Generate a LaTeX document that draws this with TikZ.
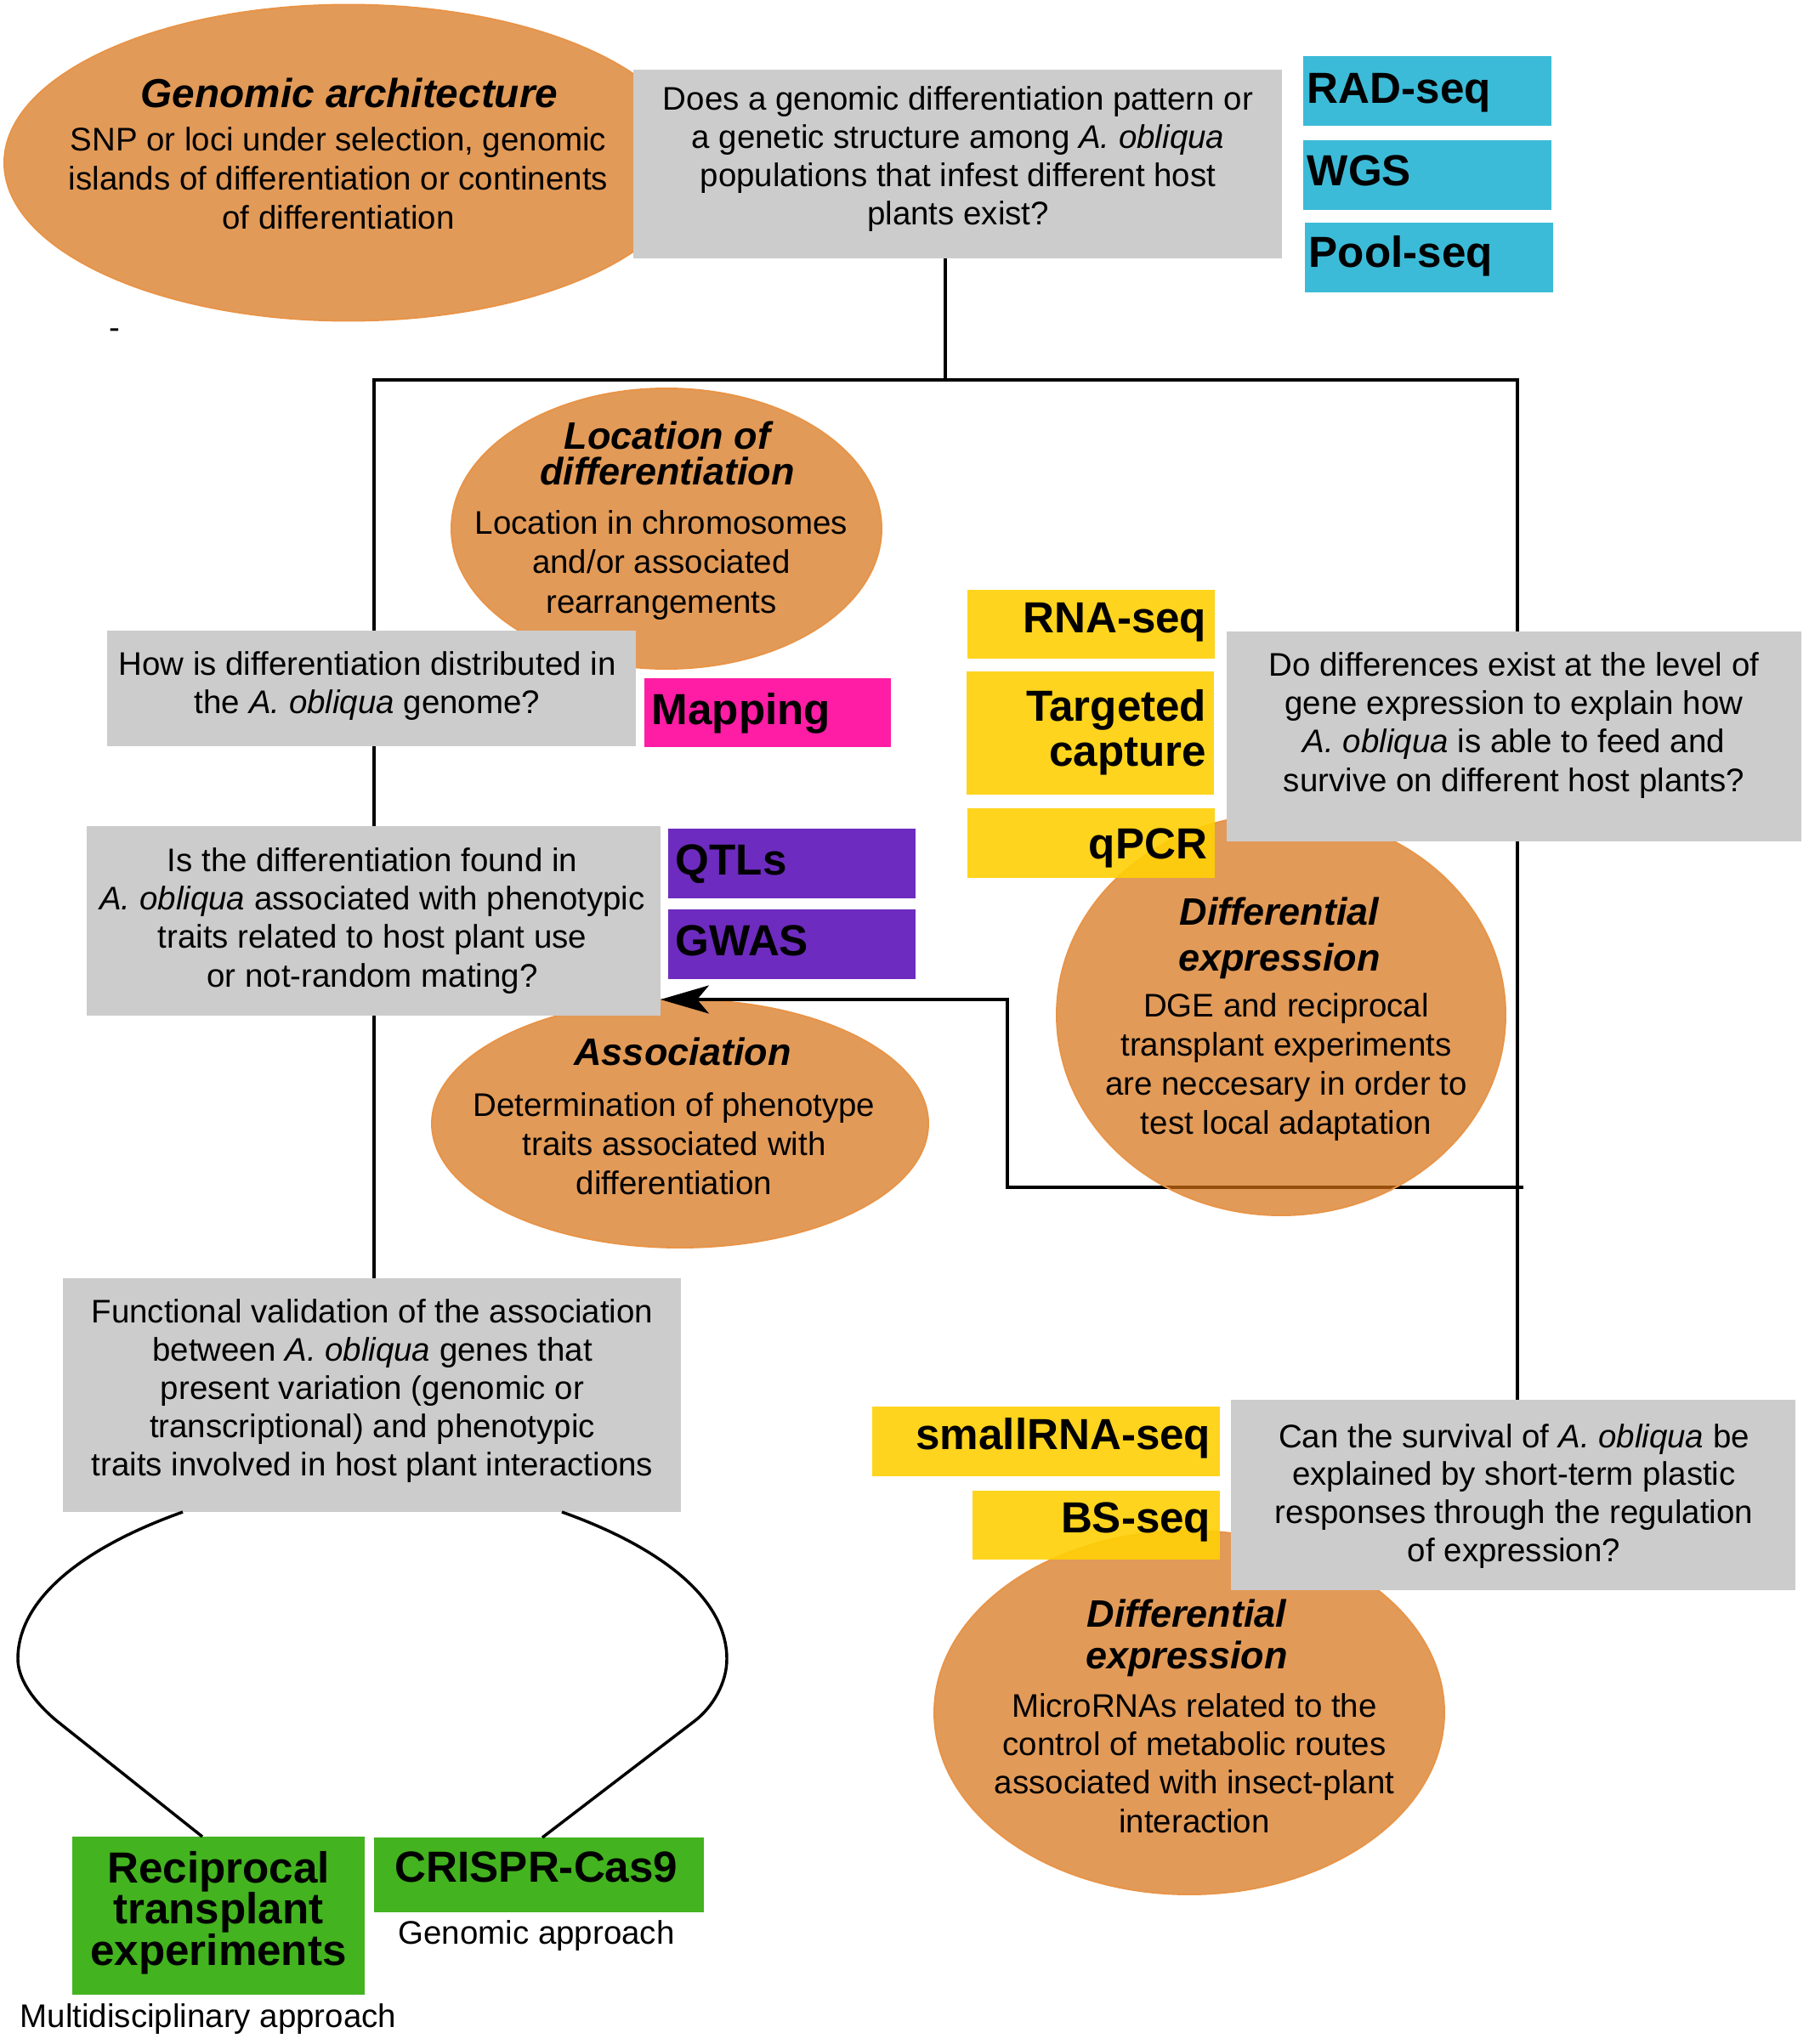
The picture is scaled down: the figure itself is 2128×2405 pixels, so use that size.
\documentclass[tikz,border=0pt]{standalone}
\usepackage{fontspec}
\setmainfont{Liberation Sans}
\usetikzlibrary{shapes.geometric,arrows.meta}
\definecolor{orfill}{RGB}{215,112,18}
\definecolor{orline}{RGB}{232,148,72}
\definecolor{gryfill}{RGB}{204,204,204}
\definecolor{cyfill}{RGB}{60,187,216}
\definecolor{yefill}{RGB}{255,208,6}
\definecolor{pkfill}{RGB}{255,29,165}
\definecolor{pufill}{RGB}{110,43,191}
\definecolor{grfill}{RGB}{67,179,31}
\pgfdeclarelayer{bg}
\pgfsetlayers{bg,main}
\newcommand\mkbox[6]{\node[#2,minimum width={(#5-#3)*0.26pt},minimum height={(#6-#4)*0.26pt}] (#1) at ({(#3+#5)/2},{(#4+#6)/2}) {};}
\newcommand\mkell[5]{\node[orell,minimum width={2*#4*0.26pt},minimum height={2*#5*0.26pt}] (#1) at (#2,#3) {};}
\newcommand\Aob{\textit{A. obliqua}}
\begin{document}
\begin{tikzpicture}[x=0.26pt,y=-0.26pt,
  boxbase/.style={rectangle,inner sep=0pt,outer sep=0pt,draw=none},
  graybx/.style={boxbase,fill=gryfill},
  cyanbx/.style={boxbase,fill=cyfill},
  yelbx/.style={boxbase,fill=yefill,fill opacity=0.9},
  pinkbx/.style={boxbase,fill=pkfill},
  purpbx/.style={boxbase,fill=pufill},
  grnbx/.style={boxbase,fill=grfill},
  orell/.style={ellipse,inner sep=0pt,outer sep=0pt,fill=orfill,fill opacity=0.7,draw=orline,line width=0.5pt},
  bodytxt/.style={inner sep=0pt,anchor=base,align=center,font=\fontsize{10}{#1}\selectfont},
  bodytxt/.default=11.8pt,
  ttltxt/.style={inner sep=0pt,anchor=base,align=center,font=\fontsize{11.7}{#1}\selectfont\bfseries\itshape},
  ttltxt/.default=14pt,
  lbltxt/.style={inner sep=0pt,font=\fontsize{13.3}{#1}\selectfont\bfseries},
  lbltxt/.default=13.9pt,
  conn/.style={line width=0.9pt,black}]
\useasboundingbox (0,0) rectangle (2128,2405);

% (multi-line text nodes are placed at the baseline of their last line)
% ---------- top ----------
\mkell{e1}{410}{191.5}{405}{186}
\mkbox{q1}{graybx}{745}{82}{1508}{304}
\node[ttltxt,font=\fontsize{12.4}{14}\selectfont\bfseries\itshape] (t1) at (411,127) {Genomic architecture};
\node[bodytxt=11.96pt] (b1) at (398,270) {SNP or loci under selection, genomic\\islands of differentiation or continents\\of differentiation};
\node[bodytxt=11.78pt] (b2) at (1127,265) {Does a genomic differentiation pattern or\\a genetic structure among \Aob\\populations that infest different host\\plants exist?};

\mkbox{c1}{cyanbx}{1533}{66}{1825}{148}
\mkbox{c2}{cyanbx}{1533}{165}{1825}{247}
\mkbox{c3}{cyanbx}{1535}{262}{1827}{344}
\node[lbltxt,anchor=base west] (l1) at (1537,122) {RAD-seq};
\node[lbltxt,anchor=base west] (l2) at (1537,218) {WGS};
\node[lbltxt,anchor=base west] (l3) at (1539,315) {Pool-seq};

\node[bodytxt] (dsh) at (135,398) {-};

% ---------- location ----------
\mkell{e2}{784}{622}{253}{165}
\mkbox{q2}{graybx}{126}{741.5}{748}{878}
\mkbox{m1}{pinkbx}{758}{798}{1048}{879}
\node[ttltxt=11.05pt] (t2) at (785,570.5) {Location of\\differentiation};
\node[bodytxt=12.09pt] (b3) at (778,721) {Location in chromosomes\\and/or associated\\rearrangements};
\node[bodytxt=11.83pt] (b4) at (432,839.5) {How is differentiation distributed in\\the \Aob{} genome?};
\node[lbltxt,anchor=base west] (l4) at (766,852) {Mapping};

% ---------- association ----------
\mkell{e3}{800}{1322}{292}{146}
\mkbox{q3}{graybx}{102}{972}{777}{1195}
\mkbox{p1}{purpbx}{786}{975}{1077}{1057}
\mkbox{p2}{purpbx}{786}{1070}{1077}{1152}
\node[ttltxt] (t3) at (803,1253) {Association};
\node[bodytxt=11.96pt] (b5) at (793,1405) {Determination of phenotype\\traits associated with\\differentiation};
\node[bodytxt=11.78pt] (b6) at (438,1161) {Is the differentiation found in\\\Aob{} associated with phenotypic\\traits related to host plant use\\or not-random mating?};
\node[lbltxt,anchor=base west] (l5) at (794,1029) {QTLs};
\node[lbltxt,anchor=base west] (l6) at (794,1124) {GWAS};

% ---------- arrow ----------
\coordinate (ae) at (1792,1397);
\coordinate (ab) at (1185,1397);
\coordinate (at) at (1185,1176);
\draw[conn,-{Stealth[length=14.8pt,width=8.6pt,inset=3.6pt]}] (ae) -- (ab) -- (at) -- (q3.east |- at);

% ---------- differential expression 1 ----------
\mkell{e4}{1507}{1194}{264}{236}
\mkbox{y1}{yelbx}{1138}{694}{1429}{775}
\mkbox{y2}{yelbx}{1137}{790}{1428}{935}
\mkbox{y3}{yelbx}{1138}{951}{1429}{1033}
\mkbox{q4}{graybx}{1443}{743}{2119}{990}
\node[ttltxt=14pt] (t4) at (1505,1142) {Differential\\expression};
\node[bodytxt=11.88pt] (b7) at (1513,1334) {DGE and reciprocal\\transplant experiments\\are neccesary in order to\\test local adaptation};
\node[bodytxt=11.78pt] (b8) at (1781,931) {Do differences exist at the level of\\gene expression to explain how\\\Aob{} is able to feed and\\survive on different host plants?};
\node[lbltxt,anchor=base east] (l7) at (1420,744) {RNA-seq};
\node[lbltxt=13.9pt,anchor=base east,align=right] (l8) at (1420,901.5) {Targeted\\capture};
\node[lbltxt,anchor=base east] (l9) at (1421,1010) {qPCR};

% ---------- differential expression 2 ----------
\mkell{e5}{1399}{2015}{300}{214}
\mkbox{y4}{yelbx}{1026}{1655}{1435}{1737}
\mkbox{y5}{yelbx}{1144}{1754}{1435}{1835}
\mkbox{q5}{graybx}{1448}{1647}{2112}{1871}
\node[ttltxt=12.7pt] (t5) at (1396,1963) {Differential\\expression};
\node[bodytxt=11.78pt] (b9) at (1405,2156) {MicroRNAs related to the\\control of metabolic routes\\associated with insect-plant\\interaction};
\node[bodytxt=11.6pt] (b10) at (1781,1837) {Can the survival of \Aob{} be\\explained by short-term plastic\\responses through the regulation\\of expression?};
\node[lbltxt,anchor=base east] (l10) at (1425,1705) {smallRNA-seq};
\node[lbltxt,anchor=base east] (l11) at (1425,1803) {BS-seq};

% ---------- bottom ----------
\mkbox{q6}{graybx}{74}{1504}{801}{1779}
\mkbox{g1}{grnbx}{85}{2161}{429}{2347}
\mkbox{g2}{grnbx}{440}{2162}{828}{2250}
\node[bodytxt=11.65pt] (b11) at (438,1736) {Functional validation of the association\\between \Aob{} genes that\\present variation (genomic or\\transcriptional) and phenotypic\\traits involved in host plant interactions};
\node[lbltxt=12.5pt,align=center,anchor=base] (l12) at (257,2312) {Reciprocal\\transplant\\experiments};
\node[lbltxt,anchor=base] (l13) at (631,2214) {CRISPR-Cas9};
\node[bodytxt] (b12) at (631,2287) {Genomic approach};
\node[bodytxt] (b13) at (245,2385) {Multidisciplinary approach};

\coordinate (cl1) at (215,1779);
\coordinate (cl2) at (238,2161);
\coordinate (cr1) at (661,1779);
\coordinate (cr2) at (638,2162);
\draw[conn] (q6.south -| cl1) .. controls (100,1820) and (21,1880) .. (21,1952) .. controls (21,1980) and (46.5,2008) .. (67,2025) -- (g1.north -| cl2);
\draw[conn] (q6.south -| cr1) .. controls (776,1820) and (855,1880) .. (855,1952) .. controls (855,1980) and (838.5,2008.6) .. (817,2025) -- (g2.north -| cr2);

% ---------- background lines ----------
\begin{pgfonlayer}{bg}
\fill[white] (0,0) rectangle (2128,2405);
\coordinate (jt) at (1112,447);
\coordinate (jl) at (440,447);
\coordinate (jr) at (1785,447);
\draw[conn] (q1.south -| jt) -- (jt);
\draw[conn] (q6.north -| jl) -- (jl) -- (jr) -- (q5.north -| jr);
\end{pgfonlayer}
\end{tikzpicture}
\end{document}
